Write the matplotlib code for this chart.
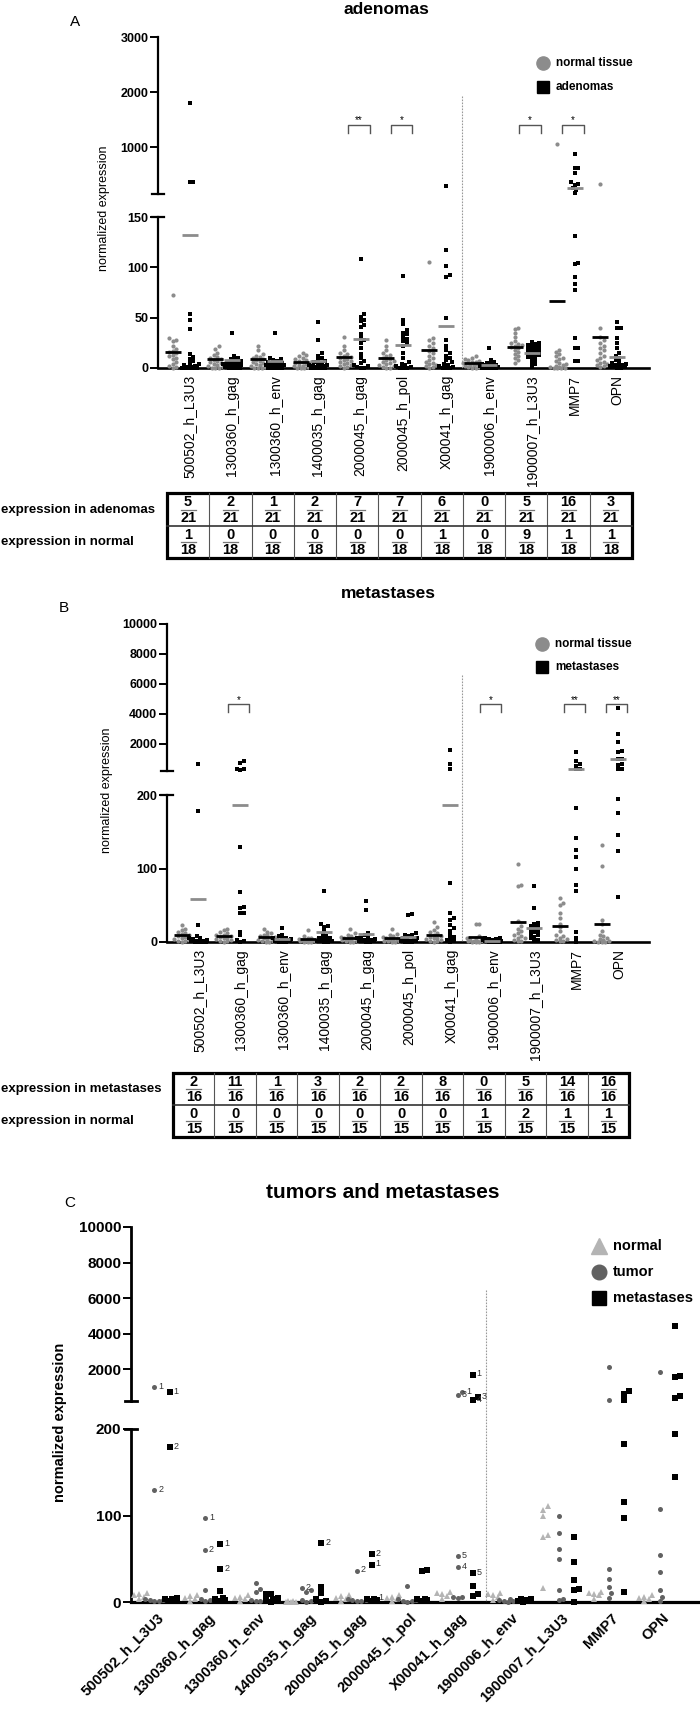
import numpy as np
import matplotlib
matplotlib.use("Agg")
import matplotlib.pyplot as plt
from matplotlib.lines import Line2D
from matplotlib.patches import Rectangle

plt.rcParams['font.family'] = ['Liberation Sans', 'DejaVu Sans']

# ---------------- DATA ----------------
genes = ["500502_h_L3U3", "1300360_h_gag", "1300360_h_env", "1400035_h_gag",
         "2000045_h_gag", "2000045_h_pol", "X00041_h_gag", "1900006_h_env",
         "1900007_h_L3U3", "MMP7", "OPN"]

# Panel A: adenomas
A_normal = [
    [73, 30, 28, 27, 22, 19, 17, 16, 15, 13, 12, 10, 9, 6, 4, 2, 1, 0],
    [22, 19, 15, 13, 11, 10, 9, 8, 7, 6, 5, 4, 3, 2, 1, 0, 0, 0],
    [22, 18, 14, 12, 11, 10, 9, 8, 7, 6, 5, 4, 3, 2, 1, 0, 0, 0],
    [15, 13, 12, 10, 9, 8, 7, 6, 5, 5, 4, 3, 2, 2, 1, 0, 0, 0],
    [31, 22, 18, 15, 14, 12, 11, 10, 9, 8, 7, 6, 5, 4, 3, 2, 1, 0],
    [28, 22, 18, 15, 13, 12, 10, 9, 8, 7, 6, 5, 4, 3, 2, 1, 0, 0],
    [105, 30, 28, 25, 22, 20, 17, 15, 12, 10, 8, 6, 5, 4, 3, 2, 1, 0],
    [12, 10, 9, 8, 7, 6, 6, 5, 5, 4, 4, 3, 3, 2, 1, 1, 0, 0],
    [40, 39, 35, 31, 27, 25, 24, 23, 22, 21, 20, 18, 16, 14, 12, 10, 8, 5],
    [1060, 18, 16, 14, 12, 10, 9, 7, 5, 4, 3, 2, 1, 1, 0, 0, 0, 0],
    [330, 40, 31, 28, 25, 22, 20, 18, 15, 12, 10, 8, 6, 5, 4, 3, 2, 1],
]
A_adenoma = [
    [1800, 360, 360, 54, 48, 39, 14, 11, 9, 7, 5, 4, 3, 2, 1, 1, 0, 0, 0, 0, 0],
    [35, 12, 10, 9, 8, 7, 6, 5, 5, 4, 4, 3, 3, 2, 2, 1, 1, 0, 0, 0, 0],
    [35, 10, 9, 8, 7, 6, 5, 5, 4, 4, 3, 3, 2, 2, 1, 1, 0, 0, 0, 0, 0],
    [46, 28, 15, 12, 10, 8, 7, 6, 5, 4, 3, 3, 2, 2, 1, 1, 0, 0, 0, 0, 0],
    [108, 54, 51, 48, 47, 43, 41, 34, 30, 28, 25, 20, 14, 10, 7, 5, 3, 2, 1, 0, 0],
    [91, 48, 44, 38, 35, 34, 31, 29, 27, 25, 22, 15, 10, 6, 4, 3, 2, 1, 0, 0, 0],
    [300, 117, 101, 92, 90, 50, 28, 22, 18, 15, 12, 10, 8, 6, 4, 3, 2, 1, 0, 0, 0],
    [20, 8, 6, 5, 4, 4, 3, 3, 2, 2, 2, 1, 1, 1, 0, 0, 0, 0, 0, 0, 0],
    [26, 25, 24, 23, 22, 21, 20, 19, 18, 17, 16, 15, 14, 13, 12, 11, 10, 8, 6, 4, 2],
    [880, 620, 615, 540, 360, 330, 320, 250, 225, 160, 131, 104, 103, 90, 83, 77, 30, 20, 20, 7, 7],
    [46, 40, 40, 30, 25, 20, 15, 12, 10, 8, 6, 5, 4, 3, 3, 2, 2, 1, 1, 0, 0],
]
A_normal_mean = [16, 9, 9, 6, 11, 10, 18, 5, 21, 67, 31]
A_adenoma_mean = [132, 8, 7, 7, 29, 23, 42, 3, 15, 250, 11]
A_sig = {4: "**", 5: "*", 8: "*", 9: "*"}
A_tab_adenoma = [5, 2, 1, 2, 7, 7, 6, 0, 5, 16, 3]
A_tab_normal = [1, 0, 0, 0, 0, 0, 1, 0, 9, 1, 1]
A_den = [21, 18]

# Panel B: metastases
B_normal = [
    [23, 18, 16, 14, 12, 11, 9, 8, 7, 5, 4, 3, 2, 1, 0],
    [18, 16, 14, 12, 10, 9, 8, 7, 6, 5, 4, 3, 2, 1, 0],
    [18, 14, 12, 10, 9, 8, 7, 6, 5, 4, 3, 2, 1, 0, 0],
    [17, 8, 6, 5, 4, 4, 3, 3, 2, 2, 1, 1, 0, 0, 0],
    [18, 12, 10, 8, 7, 6, 5, 5, 4, 3, 3, 2, 1, 0, 0],
    [18, 11, 9, 8, 7, 6, 5, 4, 4, 3, 2, 2, 1, 0, 0],
    [27, 21, 17, 14, 12, 10, 8, 7, 6, 5, 4, 3, 2, 1, 0],
    [24, 24, 8, 6, 5, 4, 3, 3, 2, 2, 1, 1, 0, 0, 0],
    [106, 78, 76, 28, 22, 18, 15, 12, 10, 8, 6, 5, 3, 2, 1],
    [60, 53, 50, 39, 32, 25, 20, 15, 10, 8, 6, 4, 3, 2, 1],
    [132, 104, 30, 25, 15, 10, 8, 5, 4, 3, 2, 1, 0, 0, 0],
]
B_met = [
    [667, 178, 23, 8, 6, 5, 4, 3, 2, 2, 1, 1, 0, 0, 0, 0],
    [870, 720, 360, 330, 300, 129, 68, 48, 46, 40, 39, 14, 9, 3, 1, 0],
    [19, 10, 8, 6, 5, 5, 4, 3, 3, 2, 2, 1, 1, 0, 0, 0],
    [69, 25, 22, 21, 15, 10, 8, 6, 5, 4, 3, 2, 2, 1, 0, 0],
    [56, 44, 12, 9, 7, 6, 5, 4, 3, 3, 2, 2, 1, 1, 0, 0],
    [38, 37, 12, 10, 9, 8, 6, 5, 4, 3, 2, 1, 1, 0, 0, 0],
    [1600, 667, 356, 80, 39, 32, 30, 23, 19, 15, 10, 7, 5, 3, 1, 0],
    [6, 5, 4, 4, 3, 3, 2, 2, 2, 1, 1, 1, 0, 0, 0, 0],
    [76, 46, 26, 24, 22, 20, 19, 17, 15, 13, 11, 9, 7, 5, 3, 2],
    [1444, 889, 667, 556, 311, 311, 182, 141, 125, 115, 99, 78, 69, 14, 6, 0],
    [4400, 2670, 2160, 1560, 1470, 1020, 1000, 670, 600, 360, 310, 194, 176, 145, 124, 61],
]
B_normal_mean = [9, 8, 7, 4, 6, 6, 10, 7, 27, 22, 24]
B_met_mean = [58, 186, 4, 13, 11, 7, 186, 2, 19, 333, 1020]
B_sig = {1: "*", 7: "*", 9: "**", 10: "**"}
B_tab_met = [2, 11, 1, 3, 2, 2, 8, 0, 5, 14, 16]
B_tab_normal = [0, 0, 0, 0, 0, 0, 0, 1, 2, 1, 1]
B_den = [16, 15]

# Panel C: tumors and metastases
C_normal = [
    [10, 9, 8, 6, 3], [8, 7, 5, 3, 1], [8, 6, 5, 3, 1], [1, 1, 0, 0, 0],
    [8, 7, 5, 3, 1], [8, 6, 5, 3, 1], [11, 10, 9, 7, 3], [10, 9, 8, 6, 2],
    [111, 106, 100, 77, 75, 16], [11, 10, 9, 8, 3], [8, 6, 5, 3, 1],
]
C_tumor = [
    [986, 129, 3, 2, 2, 1, 1], [97, 60, 14, 4, 3, 2, 1], [22, 15, 11, 3, 2, 1, 1],
    [16, 14, 12, 3, 2, 1, 0], [36, 3, 2, 2, 1, 1], [19, 3, 2, 1, 1, 0],
    [686, 535, 53, 40, 6, 6, 5], [3, 2, 2, 1, 1, 0], [99, 80, 61, 50, 14, 4, 2],
    [2113, 272, 38, 27, 17, 10, 5], [1831, 107, 54, 35, 14, 6, 1],
]
C_met = [
    [686, 179, 5, 4, 3, 2, 1], [67, 38, 13, 5, 4, 2, 1], [9, 9, 5, 3, 2, 1, 0],
    [68, 17, 10, 3, 1, 0], [55, 43, 4, 3, 2, 1], [37, 36, 4, 3, 2, 1],
    [1681, 423, 235, 33, 18, 9, 7], [4, 3, 2, 1, 1, 0], [75, 46, 26, 15, 14, 0],
    [742, 610, 272, 183, 116, 97, 12], [4404, 1587, 1549, 460, 366, 194, 145],
]
# (gene index, group, value, label)
C_notes = [(0, 't', 986, '1'), (0, 'm', 686, '1'), (0, 't', 129, '2'), (0, 'm', 179, '2'),
           (1, 't', 97, '1'), (1, 't', 60, '2'), (1, 'm', 67, '1'), (1, 'm', 38, '2'),
           (3, 't', 16, '2'), (3, 'm', 68, '2'),
           (4, 't', 36, '2'), (4, 'm', 55, '2'), (4, 'm', 43, '1'), (4, 'm', 4, '1'),
           (6, 't', 686, '1'), (6, 't', 535, '3'), (6, 'm', 423, '3'), (6, 'm', 235, '4'),
           (6, 'm', 1681, '1'), (6, 't', 53, '5'), (6, 't', 40, '4'), (6, 'm', 33, '5')]

# ---------------- LAYOUT HELPERS ----------------
W, H = 700, 1722
fig = plt.figure(figsize=(W / 100, H / 100), dpi=100)

GREY = '#8c8c8c'


def fx(x):
    return x / W


def fy(y):
    return 1 - y / H


def rect(x0, yt, x1, yb):
    return [fx(x0), fy(yb), (x1 - x0) / W, (yb - yt) / H]


def fline(xs, ys, **kw):
    fig.add_artist(Line2D([fx(x) for x in xs], [fy(y) for y in ys],
                          transform=fig.transFigure, **kw))


def ftext(x, y, s, **kw):
    return fig.text(fx(x), fy(y), s, **kw)


def fmark(x, y, **kw):
    fig.add_artist(Line2D([fx(x)], [fy(y)], transform=fig.transFigure, ls='none', **kw))


class Panel:
    def __init__(self, x0, x1, xlim, up_top, up_bot, low_top, low_bot, low_max, up_max,
                 up_ticks, low_ticks, tick_fs, spine_lw):
        self.x0, self.x1, self.xlim = x0, x1, xlim
        self.up_top, self.up_bot = up_top, up_bot
        self.low_top, self.low_bot = low_top, low_bot
        self.low_max, self.up_max = low_max, up_max
        self.axu = fig.add_axes(rect(x0, up_top, x1, up_bot))
        self.axl = fig.add_axes(rect(x0, low_top, x1, low_bot))
        for ax, lim, ticks in ((self.axu, (low_max, up_max), up_ticks),
                               (self.axl, (0, low_max), low_ticks)):
            ax.set_xlim(xlim)
            ax.set_ylim(lim)
            ax.patch.set_alpha(0)
            for s in ('top', 'right'):
                ax.spines[s].set_visible(False)
            ax.spines['left'].set_linewidth(spine_lw)
            ax.set_xticks([])
            ax.set_yticks(ticks)
            ax.set_yticklabels([str(t) for t in ticks], fontsize=tick_fs, fontweight='bold')
            ax.tick_params(axis='y', direction='out', length=6, width=1.4, pad=1)
        self.axu.spines['bottom'].set_visible(False)
        self.axl.spines['bottom'].set_linewidth(spine_lw + 0.3)
        # break caps
        fline([x0 - 6, x0 + 6], [up_bot, up_bot], color='k', lw=spine_lw)
        fline([x0 - 6, x0 + 6], [low_top, low_top], color='k', lw=spine_lw)

    def sp(self):
        return (self.x1 - self.x0) / (self.xlim[1] - self.xlim[0])

    def px_x(self, xd):
        return self.x0 + (xd - self.xlim[0]) * self.sp()

    def px_y(self, v):
        if v <= self.low_max:
            return self.low_bot - v / self.low_max * (self.low_bot - self.low_top)
        return self.up_bot - (v - self.low_max) / (self.up_max - self.low_max) * (self.up_bot - self.up_top)

    def ax_for(self, v):
        return self.axl if v <= self.low_max else self.axu


def swarm(ys, d, maxw):
    n = len(ys)
    offs = np.zeros(n)
    placed = []
    cands = [0.0]
    step = d * 0.5
    k = 1
    while k * step <= maxw + 1e-9:
        cands += [k * step, -k * step]
        k += 1
    order = np.argsort(-np.asarray(ys), kind='stable')
    for i in order:
        y = ys[i]
        best, bestscore = 0.0, -1.0
        for c in cands:
            md = min([np.hypot(c - px, y - py) for px, py in placed] or [1e9])
            if md >= d:
                best = c
                break
            if md > bestscore:
                bestscore, best = md, c
        offs[i] = best
        placed.append((best, y))
    return offs


def draw_group(p, vals, xc, marker, color, ms, d, maxw, z=3):
    ys = [p.px_y(v) for v in vals]
    offs = swarm(ys, d, maxw)
    pts = []
    for v, o in zip(vals, offs):
        ax = p.ax_for(v)
        xd = xc + o / p.sp()
        ax.plot([xd], [v], marker=marker, color=color, ms=ms, mew=0, ls='none',
                clip_on=False, zorder=z)
        pts.append((xd, v))
    return pts


def mean_line(p, xc, m, color, hw_px=8):
    ax = p.ax_for(m)
    hw = hw_px / p.sp()
    ax.plot([xc - hw, xc + hw], [m, m], color=color, lw=2, solid_capstyle='butt',
            clip_on=False, zorder=4)


def draw_table(left, right, top, mid, bottom, labels, rows, dens):
    n = len(rows[0])
    cw = (right - left) / n
    for j in range(1, n):
        fline([left + j * cw] * 2, [top, bottom], color='#555555', lw=0.8)
    fline([left, right], [mid, mid], color='#333333', lw=1.2)
    fig.add_artist(Rectangle((fx(left), fy(bottom)), fx(right) - fx(left), fy(top) - fy(bottom),
                             transform=fig.transFigure, fill=False, lw=2.3, ec='k'))
    for r, (rt, rb) in enumerate([(top, mid), (mid, bottom)]):
        cy = (rt + rb) / 2
        ftext(1, cy, labels[r], ha='left', va='center', fontsize=9.5, fontweight='bold')
        for j in range(n):
            cx = left + (j + 0.5) * cw
            ftext(cx, cy - 0.3, str(rows[r][j]), ha='center', va='bottom', fontsize=10.5,
                  fontweight='bold')
            fline([cx - 7.5, cx + 7.5], [cy, cy], color='#777777', lw=0.9)
            ftext(cx, cy + 1.2, str(dens[r]), ha='center', va='top', fontsize=10.5,
                  fontweight='bold')


def brackets(p, sig, y_top, y_leg, y_star):
    for j, s in sig.items():
        xl = p.px_x(j - 0.09)
        xr = p.px_x(j + 0.41)
        fline([xl, xl, xr, xr], [y_leg, y_top, y_top, y_leg], color='#555555', lw=1)
        ftext((xl + xr) / 2, y_star, s, ha='center', va='center', fontsize=7)


# ---------------- PANEL A ----------------
pA = Panel(158, 649, (-0.54, 10.94), 37, 194, 217, 368, 150, 3000,
           [1000, 2000, 3000], [0, 50, 100, 150], 9, 1.6)
for i in range(len(genes)):
    draw_group(pA, A_normal[i], i - 0.2, 'o', GREY, 3.0, 3.6, 9)
    draw_group(pA, A_adenoma[i], i + 0.2, 's', 'black', 2.6, 3.6, 9)
    mean_line(pA, i - 0.2, A_normal_mean[i], 'black')
    mean_line(pA, i + 0.2, A_adenoma_mean[i], GREY)
    ftext(pA.px_x(i + 0.2), 375, genes[i], rotation=90, ha='center', va='top', fontsize=10)
xd = pA.px_x(6.56)
fline([xd, xd], [96, 368], color='#999999', lw=0.8, ls=(0, (1.5, 1.2)))
brackets(pA, A_sig, 125, 133, 120)
ftext(386, 9, 'adenomas', ha='center', va='center', fontsize=12.5, fontweight='bold')
ftext(75, 22, 'A', ha='center', va='center', fontsize=11)
ftext(104, 208, 'normalized expression', rotation=90, ha='center', va='center', fontsize=9)
fmark(543, 63, marker='o', color=GREY, ms=9.5)
ftext(556, 63, 'normal tissue', ha='left', va='center', fontsize=8.5, fontweight='bold')
fmark(543, 87, marker='s', color='black', ms=9)
ftext(556, 87, 'adenomas', ha='left', va='center', fontsize=8.5, fontweight='bold')
draw_table(167, 632, 493, 526, 558, ['expression in adenomas', 'expression in normal'],
           [A_tab_adenoma, A_tab_normal], A_den)

# ---------------- PANEL B ----------------
pB = Panel(167, 649, (-0.55, 10.93), 624, 771, 795, 942, 200, 10000,
           [2000, 4000, 6000, 8000, 10000], [0, 100, 200], 9, 1.6)
for i in range(len(genes)):
    draw_group(pB, B_normal[i], i - 0.2, 'o', GREY, 3.0, 3.6, 9)
    draw_group(pB, B_met[i], i + 0.2, 's', 'black', 2.6, 3.6, 9)
    mean_line(pB, i - 0.2, B_normal_mean[i], 'black')
    mean_line(pB, i + 0.2, B_met_mean[i], GREY)
    ftext(pB.px_x(i + 0.22), 949, genes[i], rotation=90, ha='center', va='top', fontsize=10)
xd = pB.px_x(6.48)
fline([xd, xd], [675, 942], color='#999999', lw=0.8, ls=(0, (1.5, 1.2)))
brackets(pB, B_sig, 704, 712, 700)
ftext(388, 594, 'metastases', ha='center', va='center', fontsize=12.5, fontweight='bold')
ftext(64, 608, 'B', ha='center', va='center', fontsize=11)
ftext(107, 790, 'normalized expression', rotation=90, ha='center', va='center', fontsize=9)
fmark(542, 644, marker='o', color=GREY, ms=9.5)
ftext(555, 644, 'normal tissue', ha='left', va='center', fontsize=8.5, fontweight='bold')
fmark(542, 667, marker='s', color='black', ms=9)
ftext(555, 667, 'metastases', ha='left', va='center', fontsize=8.5, fontweight='bold')
draw_table(173, 629, 1073, 1105, 1137, ['expression in metastases', 'expression in normal'],
           [B_tab_met, B_tab_normal], B_den)

# ---------------- PANEL C ----------------
pC = Panel(131, 698, (-0.465, 10.76), 1227, 1401, 1429, 1602, 200, 10000,
           [2000, 4000, 6000, 8000, 10000], [0, 100, 200], 11, 2.0)
TRI, CIRC = '#b4b4b4', '#616161'
pts_t, pts_m = {}, {}
for i in range(len(genes)):
    draw_group(pC, C_normal[i], i - 0.3, '^', TRI, 5.0, 5.0, 9)
    pts_t[i] = draw_group(pC, C_tumor[i], i, 'o', CIRC, 3.6, 4.5, 9)
    pts_m[i] = draw_group(pC, C_met[i], i + 0.3, 's', 'black', 3.8, 5.0, 9)
    ftext(pC.px_x(i + 0.05), 1611, genes[i], rotation=45, rotation_mode='anchor',
          ha='right', va='top', fontsize=10.5, fontweight='bold')
for (g, grp, v, lab) in C_notes:
    pts = pts_t[g] if grp == 't' else pts_m[g]
    xd, vv = [pt for pt in pts if pt[1] == v][0]
    ftext(pC.px_x(xd) + 4, pC.px_y(vv) - 1, lab, ha='left', va='center', fontsize=6.5,
          color='#333333')
xd = pC.px_x(6.56)
fline([xd, xd], [1290, 1602], color='#999999', lw=0.8, ls=(0, (1.5, 1.2)))
ftext(383, 1193, 'tumors and metastases', ha='center', va='center', fontsize=15, fontweight='bold')
ftext(70, 1203, 'C', ha='center', va='center', fontsize=11)
ftext(60, 1422, 'normalized expression', rotation=90, ha='center', va='center', fontsize=10.5,
      fontweight='bold')
fmark(599, 1246, marker='^', color=TRI, ms=11)
ftext(613, 1246, 'normal', ha='left', va='center', fontsize=10.5, fontweight='bold')
fmark(599, 1272, marker='o', color=CIRC, ms=10.5)
ftext(613, 1272, 'tumor', ha='left', va='center', fontsize=10.5, fontweight='bold')
fmark(599, 1298, marker='s', color='black', ms=10)
ftext(613, 1298, 'metastases', ha='left', va='center', fontsize=10.5, fontweight='bold')

fig.savefig('out.png', dpi=100)
